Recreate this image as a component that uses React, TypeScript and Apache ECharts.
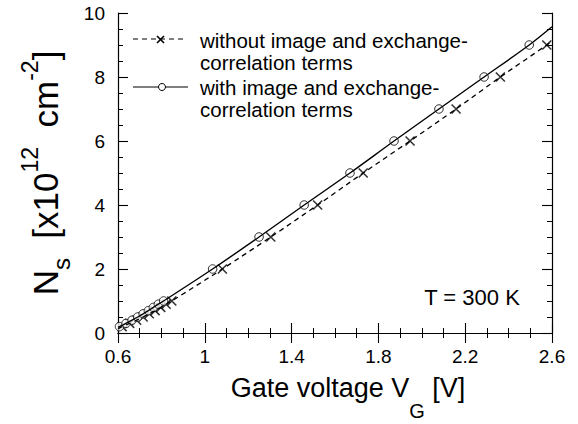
import React, { useEffect, useRef } from 'react';
import * as echarts from 'echarts';

// Gate voltage (V) and sheet density (1e12 cm^-2)
const withNs = [0.2, 0.3, 0.4, 0.5, 0.6, 0.7, 0.8, 0.9, 1.0, 2, 3, 4, 5, 6, 7, 8, 9];
const withV = [0.607, 0.637, 0.665, 0.691, 0.716, 0.74, 0.763, 0.786, 0.81, 1.036, 1.25, 1.458, 1.669, 1.872, 2.079, 2.287, 2.495];
const withoutNs = [0.2, 0.3, 0.4, 0.5, 0.6, 0.7, 0.8, 0.9, 1.0, 2, 3, 4, 5, 6, 7, 8, 9];
const withoutV = [0.619, 0.654, 0.686, 0.716, 0.744, 0.771, 0.797, 0.822, 0.848, 1.081, 1.304, 1.52, 1.73, 1.946, 2.158, 2.362, 2.576];
// curve end points (line continues to the plot edges)
const withStart = [0.6, 0.18];
const withEnd = [2.6, 9.57];
const withoutStart = [0.6, 0.13];
const withoutEnd = [2.6, 9.12];

const xTicks = { min: 0.6, max: 2.6, interval: 0.4 };
const yTicks = { min: 0, max: 10, interval: 2 };

const legendLabels = [
  ['without image and exchange-', 'correlation terms'],
  ['with image and exchange-', 'correlation terms'],
];
const tempLabel = 'T = 300 K';

const FONT = '"Liberation Sans", Arial, Helvetica, sans-serif';

export default function App() {
  const ref = useRef<HTMLDivElement>(null);
  useEffect(() => {
    if (!ref.current) return;
    const chart = echarts.init(ref.current, undefined, { renderer: 'svg' });
    const zip = (xs: number[], ys: number[]) => xs.map((x, i) => [x, ys[i]]);
    const withPts = zip(withV, withNs);
    const withoutPts = zip(withoutV, withoutNs);

    const tickCommon = {
      axisLine: { show: true, lineStyle: { color: '#000', width: 1.2 } },
      axisTick: { show: true, inside: true, length: 10, lineStyle: { color: '#000', width: 1.1 } },
      minorTick: { show: true, splitNumber: 4, length: 5, lineStyle: { color: '#000', width: 1 } },
      splitLine: { show: false },
      minorSplitLine: { show: false },
    };

    const option: any = {
      animation: false,
      textStyle: { fontFamily: FONT },
      grid: { left: 118, right: 26, top: 13, bottom: 91, containLabel: false, outerBoundsMode: 'none' },
      xAxis: [
        {
          type: 'value',
          position: 'bottom',
          ...xTicks,
          ...tickCommon,
          axisLabel: {
            color: '#000',
            fontSize: 19,
            fontFamily: FONT,
            margin: 14,
            formatter: (v: number) => String(parseFloat(v.toFixed(1))),
          },
          name: '{a|Gate voltage V}{sub|G}{a| [V]}',
          nameLocation: 'middle',
          nameGap: 40,
          nameMoveOverlap: false,
          nameTextStyle: {
            fontFamily: FONT,
            color: '#000',
            rich: {
              a: { fontSize: 27, lineHeight: 30, fontFamily: FONT, color: '#000' },
              sub: { fontSize: 20, lineHeight: 30, fontFamily: FONT, color: '#000', padding: [46, 0, 0, 0] },
            },
            padding: [0, 0, 0, 26],
          },
        },
        {
          type: 'value',
          position: 'top',
          ...xTicks,
          ...tickCommon,
          axisLabel: { show: false },
        },
      ],
      yAxis: [
        {
          type: 'value',
          position: 'left',
          ...yTicks,
          ...tickCommon,
          axisLabel: { color: '#000', fontSize: 19, fontFamily: FONT, margin: 13 },
          name: '{a|N}{sub|s}{a|  [x10}{sup|12}{a|  cm}{sup|-2}{a|]}',
          nameLocation: 'middle',
          nameGap: 55,
          nameMoveOverlap: false,
          nameTextStyle: {
            fontFamily: FONT,
            color: '#000',
            rich: {
              a: { fontSize: 35, lineHeight: 36, fontFamily: FONT, color: '#000' },
              sub: { fontSize: 24, lineHeight: 36, fontFamily: FONT, color: '#000', padding: [32, 0, 0, 0] },
              sup: { fontSize: 23, lineHeight: 36, fontFamily: FONT, color: '#000', padding: [0, 0, 30, 0] },
            },
          },
        },
        {
          type: 'value',
          position: 'right',
          ...yTicks,
          ...tickCommon,
          axisLabel: { show: false },
        },
      ],
      series: [
        {
          type: 'line',
          name: 'without',
          data: [withoutStart, ...withoutPts, withoutEnd],
          showSymbol: false,
          smooth: 0.3,
          lineStyle: { color: '#000', width: 1.3, type: [5, 4] },
          silent: true,
        },
        {
          type: 'line',
          name: 'with',
          data: [withStart, ...withPts, withEnd],
          showSymbol: false,
          smooth: 0.3,
          lineStyle: { color: '#000', width: 1.4, type: 'solid' },
          silent: true,
        },
        {
          type: 'scatter',
          name: 'without markers',
          data: withoutPts,
          symbol: 'path://M0,0L10,10M10,0L0,10',
          symbolSize: 9,
          itemStyle: { color: 'rgba(0,0,0,0)', borderColor: '#000', borderWidth: 1.6 },
          silent: true,
        },
        {
          type: 'scatter',
          name: 'with markers',
          data: withPts,
          symbol: 'circle',
          symbolSize: 8.5,
          itemStyle: { color: '#fff', borderColor: '#000', borderWidth: 1 },
          silent: true,
        },
      ],
      graphic: [
        { type: 'line', shape: { x1: 133, y1: 39, x2: 183, y2: 39 }, style: { stroke: '#000', lineWidth: 1.2, lineDash: [5, 4] } },
        { type: 'line', shape: { x1: 157, y1: 36, x2: 164, y2: 43 }, style: { stroke: '#000', lineWidth: 1.6 } },
        { type: 'line', shape: { x1: 157, y1: 43, x2: 164, y2: 36 }, style: { stroke: '#000', lineWidth: 1.6 } },
        { type: 'text', x: 200, y: 40, style: { text: legendLabels[0][0], fontSize: 20.5, fontFamily: FONT, fill: '#000', verticalAlign: 'middle' } },
        { type: 'text', x: 200, y: 62, style: { text: legendLabels[0][1], fontSize: 20.5, fontFamily: FONT, fill: '#000', verticalAlign: 'middle' } },
        { type: 'line', shape: { x1: 133, y1: 87, x2: 188, y2: 87 }, style: { stroke: '#000', lineWidth: 1.2 } },
        { type: 'circle', shape: { cx: 162, cy: 87, r: 3.5 }, style: { fill: '#fff', stroke: '#000', lineWidth: 1 } },
        { type: 'text', x: 200, y: 87, style: { text: legendLabels[1][0], fontSize: 20.5, fontFamily: FONT, fill: '#000', verticalAlign: 'middle' } },
        { type: 'text', x: 200, y: 109, style: { text: legendLabels[1][1], fontSize: 20.5, fontFamily: FONT, fill: '#000', verticalAlign: 'middle' } },
        { type: 'text', x: 472, y: 297, style: { text: tempLabel, fontSize: 22, fontFamily: FONT, fill: '#000', align: 'center', verticalAlign: 'middle' } },
      ],
    };
    chart.setOption(option);
    return () => chart.dispose();
  }, []);
  return <div ref={ref} style={{ position: 'absolute', left: 0, top: 0, width: 578, height: 424, background: '#fff' }} />;
}
